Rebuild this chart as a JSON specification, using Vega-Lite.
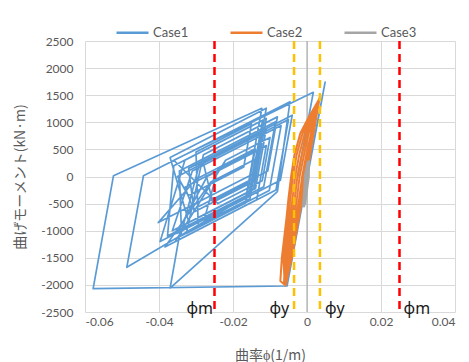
{
  "$schema": "https://vega.github.io/schema/vega-lite/v6.json",
  "width": 370,
  "height": 271,
  "autosize": {"type": "none"},
  "padding": {"left": 85, "top": 41, "right": 14, "bottom": 50},
  "background": "white",
  "config": {
    "view": {"stroke": null},
    "axis": {
      "grid": true,
      "gridColor": "#D9D9D9",
      "gridWidth": 1,
      "domain": false,
      "ticks": false,
      "tickSize": 0,
      "labelOverlap": false,
      "labelFont": "Lato",
      "labelFontSize": 12,
      "labelColor": "#595959",
      "titleFont": "Noto Sans CJK JP",
      "titleFontSize": 14,
      "titleFontWeight": "normal",
      "titleColor": "#595959"
    },
    "legend": {
      "orient": "none",
      "legendX": 30,
      "legendY": -26,
      "direction": "horizontal",
      "symbolType": "stroke",
      "symbolSize": 1024,
      "symbolStrokeWidth": 2.5,
      "labelFont": "Lato",
      "labelFontSize": 13,
      "labelColor": "#595959",
      "labelOffset": 3,
      "columnPadding": 36,
      "padding": 0,
      "title": null
    }
  },
  "datasets": {
    "curves": [
      {"case": "Case1", "i": 0, "x": 0, "y": 0},
      {"case": "Case1", "i": 1, "x": 0.0049, "y": 1740},
      {"case": "Case1", "i": 2, "x": -0.0054, "y": -2020},
      {"case": "Case1", "i": 3, "x": -0.0578, "y": -2070},
      {"case": "Case1", "i": 4, "x": -0.0523, "y": 15},
      {"case": "Case1", "i": 5, "x": -0.0122, "y": 1259},
      {"case": "Case1", "i": 6, "x": -0.0165, "y": -380},
      {"case": "Case1", "i": 7, "x": -0.0487, "y": -1676},
      {"case": "Case1", "i": 8, "x": -0.0442, "y": 15},
      {"case": "Case1", "i": 9, "x": -0.0046, "y": 1380},
      {"case": "Case1", "i": 10, "x": -0.008, "y": -280},
      {"case": "Case1", "i": 11, "x": -0.037, "y": -2060},
      {"case": "Case1", "i": 12, "x": -0.034, "y": -900},
      {"case": "Case1", "i": 13, "x": -0.0345, "y": 100},
      {"case": "Case1", "i": 14, "x": -0.0085, "y": 1010},
      {"case": "Case1", "i": 15, "x": -0.0117, "y": -190},
      {"case": "Case1", "i": 16, "x": -0.0377, "y": -1100},
      {"case": "Case1", "i": 17, "x": -0.036, "y": 200},
      {"case": "Case1", "i": 18, "x": -0.012, "y": 1040},
      {"case": "Case1", "i": 19, "x": -0.0157, "y": -360},
      {"case": "Case1", "i": 20, "x": -0.0397, "y": -1200},
      {"case": "Case1", "i": 21, "x": -0.033, "y": 300},
      {"case": "Case1", "i": 22, "x": -0.011, "y": 1070},
      {"case": "Case1", "i": 23, "x": -0.0144, "y": -230},
      {"case": "Case1", "i": 24, "x": -0.0364, "y": -1000},
      {"case": "Case1", "i": 25, "x": -0.031, "y": 100},
      {"case": "Case1", "i": 26, "x": -0.007, "y": 940},
      {"case": "Case1", "i": 27, "x": -0.0102, "y": -260},
      {"case": "Case1", "i": 28, "x": -0.0342, "y": -1100},
      {"case": "Case1", "i": 29, "x": -0.029, "y": 250},
      {"case": "Case1", "i": 30, "x": -0.011, "y": 880},
      {"case": "Case1", "i": 31, "x": -0.0139, "y": -220},
      {"case": "Case1", "i": 32, "x": -0.0319, "y": -850},
      {"case": "Case1", "i": 33, "x": -0.037, "y": 350},
      {"case": "Case1", "i": 34, "x": -0.011, "y": 1260},
      {"case": "Case1", "i": 35, "x": -0.0142, "y": 60},
      {"case": "Case1", "i": 36, "x": -0.0402, "y": -850},
      {"case": "Case1", "i": 37, "x": -0.03, "y": -50},
      {"case": "Case1", "i": 38, "x": -0.014, "y": 510},
      {"case": "Case1", "i": 39, "x": -0.0166, "y": -490},
      {"case": "Case1", "i": 40, "x": -0.0326, "y": -1050},
      {"case": "Case1", "i": 41, "x": -0.028, "y": 400},
      {"case": "Case1", "i": 42, "x": -0.008, "y": 1100},
      {"case": "Case1", "i": 43, "x": -0.0106, "y": 100},
      {"case": "Case1", "i": 44, "x": -0.0306, "y": -600},
      {"case": "Case1", "i": 45, "x": -0.032, "y": 150},
      {"case": "Case1", "i": 46, "x": -0.004, "y": 1130},
      {"case": "Case1", "i": 47, "x": -0.0072, "y": -70},
      {"case": "Case1", "i": 48, "x": -0.0352, "y": -1050},
      {"case": "Case1", "i": 49, "x": -0.027, "y": 0},
      {"case": "Case1", "i": 50, "x": -0.013, "y": 490},
      {"case": "Case1", "i": 51, "x": -0.0154, "y": -410},
      {"case": "Case1", "i": 52, "x": -0.0294, "y": -900},
      {"case": "Case1", "i": 53, "x": -0.03, "y": 450},
      {"case": "Case1", "i": 54, "x": -0.015, "y": 975},
      {"case": "Case1", "i": 55, "x": -0.0171, "y": 175},
      {"case": "Case1", "i": 56, "x": -0.0321, "y": -350},
      {"case": "Case1", "i": 57, "x": -0.035, "y": 0},
      {"case": "Case1", "i": 58, "x": -0.005, "y": 1050},
      {"case": "Case1", "i": 59, "x": -0.0084, "y": -250},
      {"case": "Case1", "i": 60, "x": -0.0384, "y": -1300},
      {"case": "Case1", "i": 61, "x": -0.026, "y": -100},
      {"case": "Case1", "i": 62, "x": -0.014, "y": 320},
      {"case": "Case1", "i": 63, "x": -0.0158, "y": -380},
      {"case": "Case1", "i": 64, "x": -0.0278, "y": -800},
      {"case": "Case1", "i": 65, "x": -0.024, "y": 150},
      {"case": "Case1", "i": 66, "x": -0.014, "y": 500},
      {"case": "Case1", "i": 67, "x": -0.0156, "y": -100},
      {"case": "Case1", "i": 68, "x": -0.0256, "y": -450},
      {"case": "Case1", "i": 69, "x": -0.028, "y": 250},
      {"case": "Case1", "i": 70, "x": -0.012, "y": 810},
      {"case": "Case1", "i": 71, "x": -0.0144, "y": -90},
      {"case": "Case1", "i": 72, "x": -0.0304, "y": -650},
      {"case": "Case1", "i": 73, "x": -0.033, "y": -200},
      {"case": "Case1", "i": 74, "x": -0.011, "y": 570},
      {"case": "Case1", "i": 75, "x": -0.0136, "y": -430},
      {"case": "Case1", "i": 76, "x": -0.0356, "y": -1200},
      {"case": "Case1", "i": 77, "x": -0.022, "y": 300},
      {"case": "Case1", "i": 78, "x": -0.01, "y": 720},
      {"case": "Case1", "i": 79, "x": -0.0121, "y": -80},
      {"case": "Case1", "i": 80, "x": -0.0241, "y": -500},
      {"case": "Case1", "i": 81, "x": -0.036, "y": 300},
      {"case": "Case1", "i": 82, "x": 0.0017, "y": 1553},
      {"case": "Case1", "i": 83, "x": -0.0025, "y": 0},

      {"case": "Case2", "i": 0, "x": 0, "y": 0},
      {"case": "Case2", "i": 1, "x": 0.0017, "y": 800},
      {"case": "Case2", "i": 2, "x": 0.0035, "y": 1480},
      {"case": "Case2", "i": 3, "x": 0.00175, "y": 800},
      {"case": "Case2", "i": 4, "x": -0.00031, "y": 0},
      {"case": "Case2", "i": 5, "x": -0.00237, "y": -800},
      {"case": "Case2", "i": 6, "x": -0.00417, "y": -1500},
      {"case": "Case2", "i": 7, "x": -0.0058, "y": -2010},
      {"case": "Case2", "i": 8, "x": -0.0072, "y": -1930},
      {"case": "Case2", "i": 9, "x": -0.0068, "y": -1500},
      {"case": "Case2", "i": 10, "x": -0.0056, "y": -800},
      {"case": "Case2", "i": 11, "x": -0.005, "y": -400},
      {"case": "Case2", "i": 12, "x": -0.0043, "y": 0},
      {"case": "Case2", "i": 13, "x": -0.0034, "y": 400},
      {"case": "Case2", "i": 14, "x": -0.0018, "y": 800},
      {"case": "Case2", "i": 15, "x": 0.0005, "y": 1100},
      {"case": "Case2", "i": 16, "x": 0.0033, "y": 1430},
      {"case": "Case2", "i": 17, "x": 0.00185, "y": 800},
      {"case": "Case2", "i": 18, "x": -0.0002, "y": 0},
      {"case": "Case2", "i": 19, "x": -0.00227, "y": -800},
      {"case": "Case2", "i": 20, "x": -0.00407, "y": -1500},
      {"case": "Case2", "i": 21, "x": -0.006, "y": -2000},
      {"case": "Case2", "i": 22, "x": -0.0064, "y": -1500},
      {"case": "Case2", "i": 23, "x": -0.0051, "y": -800},
      {"case": "Case2", "i": 24, "x": -0.0045, "y": -400},
      {"case": "Case2", "i": 25, "x": -0.0038, "y": 0},
      {"case": "Case2", "i": 26, "x": -0.0028, "y": 400},
      {"case": "Case2", "i": 27, "x": -0.0012, "y": 800},
      {"case": "Case2", "i": 28, "x": 0.0008, "y": 1100},
      {"case": "Case2", "i": 29, "x": 0.003, "y": 1380},
      {"case": "Case2", "i": 30, "x": 0.00155, "y": 800},
      {"case": "Case2", "i": 31, "x": -0.00051, "y": 0},
      {"case": "Case2", "i": 32, "x": -0.00257, "y": -800},
      {"case": "Case2", "i": 33, "x": -0.00437, "y": -1500},
      {"case": "Case2", "i": 34, "x": -0.0062, "y": -1990},
      {"case": "Case2", "i": 35, "x": -0.006, "y": -1500},
      {"case": "Case2", "i": 36, "x": -0.0046, "y": -800},
      {"case": "Case2", "i": 37, "x": -0.0039, "y": -400},
      {"case": "Case2", "i": 38, "x": -0.0032, "y": 0},
      {"case": "Case2", "i": 39, "x": -0.0021, "y": 400},
      {"case": "Case2", "i": 40, "x": -0.0006, "y": 800},
      {"case": "Case2", "i": 41, "x": 0.0011, "y": 1100},
      {"case": "Case2", "i": 42, "x": 0.0034, "y": 1450},
      {"case": "Case2", "i": 43, "x": 0.00175, "y": 800},
      {"case": "Case2", "i": 44, "x": -0.00031, "y": 0},
      {"case": "Case2", "i": 45, "x": -0.00237, "y": -800},
      {"case": "Case2", "i": 46, "x": -0.00417, "y": -1500},
      {"case": "Case2", "i": 47, "x": -0.0057, "y": -2000},
      {"case": "Case2", "i": 48, "x": -0.0056, "y": -1500},
      {"case": "Case2", "i": 49, "x": -0.0041, "y": -800},
      {"case": "Case2", "i": 50, "x": -0.0033, "y": -400},
      {"case": "Case2", "i": 51, "x": -0.0026, "y": 0},
      {"case": "Case2", "i": 52, "x": -0.0014, "y": 400},
      {"case": "Case2", "i": 53, "x": 0.0000, "y": 800},
      {"case": "Case2", "i": 54, "x": 0.0014, "y": 1100},
      {"case": "Case2", "i": 55, "x": 0.0028, "y": 1300},
      {"case": "Case2", "i": 56, "x": 0.00135, "y": 800},
      {"case": "Case2", "i": 57, "x": -0.00071, "y": 0},
      {"case": "Case2", "i": 58, "x": -0.00277, "y": -800},
      {"case": "Case2", "i": 59, "x": -0.00457, "y": -1500},
      {"case": "Case2", "i": 60, "x": -0.0063, "y": -1980},
      {"case": "Case2", "i": 61, "x": -0.0052, "y": -1500},
      {"case": "Case2", "i": 62, "x": -0.0036, "y": -800},
      {"case": "Case2", "i": 63, "x": -0.0027, "y": -400},
      {"case": "Case2", "i": 64, "x": -0.002, "y": 0},
      {"case": "Case2", "i": 65, "x": -0.0008, "y": 400},
      {"case": "Case2", "i": 66, "x": 0.0005, "y": 800},
      {"case": "Case2", "i": 67, "x": 0.0031, "y": 1400},
      {"case": "Case2", "i": 68, "x": 0.00185, "y": 800},
      {"case": "Case2", "i": 69, "x": -0.0002, "y": 0},
      {"case": "Case2", "i": 70, "x": -0.00227, "y": -800},
      {"case": "Case2", "i": 71, "x": -0.00407, "y": -1500},
      {"case": "Case2", "i": 72, "x": -0.0059, "y": -1960},
      {"case": "Case2", "i": 73, "x": -0.0048, "y": -1500},
      {"case": "Case2", "i": 74, "x": -0.0031, "y": -800},
      {"case": "Case2", "i": 75, "x": -0.0021, "y": -400},
      {"case": "Case2", "i": 76, "x": -0.0013, "y": 0},
      {"case": "Case2", "i": 77, "x": -0.0002, "y": 400},
      {"case": "Case2", "i": 78, "x": 0.0011, "y": 800},
      {"case": "Case2", "i": 79, "x": 0.0025, "y": 1250},
      {"case": "Case2", "i": 80, "x": 0.0016, "y": 800},
      {"case": "Case2", "i": 81, "x": -0.0004, "y": 0},
      {"case": "Case2", "i": 82, "x": -0.00247, "y": -800},
      {"case": "Case2", "i": 83, "x": -0.00427, "y": -1500},
      {"case": "Case2", "i": 84, "x": -0.0061, "y": -1970},
      {"case": "Case2", "i": 85, "x": -0.0045, "y": -1500},
      {"case": "Case2", "i": 86, "x": -0.0027, "y": -800},
      {"case": "Case2", "i": 87, "x": -0.0016, "y": -400},
      {"case": "Case2", "i": 88, "x": -0.0008, "y": 0},
      {"case": "Case2", "i": 89, "x": 0.0003, "y": 400},
      {"case": "Case2", "i": 90, "x": 0.0014, "y": 800},
      {"case": "Case2", "i": 91, "x": 0.0032, "y": 1350},

      {"case": "Case3", "i": 0, "x": 0, "y": 0},
      {"case": "Case3", "i": 1, "x": 0.0004, "y": 268},
      {"case": "Case3", "i": 2, "x": 0.0, "y": -100},
      {"case": "Case3", "i": 3, "x": -0.0009, "y": -540},
      {"case": "Case3", "i": 4, "x": -0.0003, "y": -50},
      {"case": "Case3", "i": 5, "x": 0.0003, "y": 250},
      {"case": "Case3", "i": 6, "x": 0.0003, "y": 0},
      {"case": "Case3", "i": 7, "x": -0.0007, "y": -500},
      {"case": "Case3", "i": 8, "x": -0.0004, "y": 0},
      {"case": "Case3", "i": 9, "x": 0.0003, "y": 240}
    ],
    "axisline": [{"x": 0}],
    "refs": [
      {"x": -0.025, "kind": "m"},
      {"x": 0.025, "kind": "m"},
      {"x": -0.0035, "kind": "y"},
      {"x": 0.0035, "kind": "y"}
    ],
    "labels": [
      {"x": -0.029, "y": -2440, "label": "ϕm"},
      {"x": -0.0075, "y": -2440, "label": "ϕy"},
      {"x": 0.0075, "y": -2440, "label": "ϕy"},
      {"x": 0.0297, "y": -2440, "label": "ϕm"}
    ]
  },
  "encoding": {
    "x": {
      "field": "x",
      "type": "quantitative",
      "scale": {"domain": [-0.06, 0.04], "nice": false, "zero": false},
      "axis": {
        "values": [-0.06, -0.04, -0.02, 0, 0.02, 0.04],
        "labelExpr": "'' + datum.value",
        "labelOverlap": false,
        "labelPadding": 4,
        "title": "曲率ϕ(1/m)",
        "titleY": 43,
        "titleBaseline": "middle"
      }
    }
  },
  "layer": [
    {
      "data": {"name": "axisline"},
      "mark": {"type": "rule", "color": "#A0A0A0", "strokeWidth": 1}
    },
    {
      "data": {"name": "curves"},
      "layer": [
        {
          "transform": [{"filter": "datum.case === 'Case1'"}],
          "mark": {"type": "line", "strokeWidth": 1.7, "strokeJoin": "round"}
        },
        {
          "transform": [{"filter": "datum.case === 'Case2'"}],
          "mark": {"type": "line", "strokeWidth": 2, "strokeJoin": "round"}
        },
        {
          "transform": [{"filter": "datum.case === 'Case3'"}],
          "mark": {"type": "line", "strokeWidth": 3.5, "strokeJoin": "round", "strokeCap": "round"}
        },
        {
          "data": {"name": "labels"},
          "mark": {"type": "text", "font": "Noto Sans", "fontSize": 16, "baseline": "middle", "align": "center"},
          "encoding": {
            "text": {"field": "label"},
            "color": {"value": "#1A1A1A"},
            "order": null
          }
        }
      ],
      "encoding": {
        "y": {
          "field": "y",
          "type": "quantitative",
          "scale": {"domain": [-2500, 2500], "nice": false, "zero": false},
          "axis": {
            "values": [-2500, -2000, -1500, -1000, -500, 0, 500, 1000, 1500, 2000, 2500],
            "labelExpr": "'' + datum.value",
            "labelOverlap": false,
            "labelPadding": 12,
            "title": "曲げモーメント(kN·m)",
            "titleX": -65,
            "titleY": 135.5,
            "titleAngle": -90,
            "titleAlign": "center",
            "titleBaseline": "middle"
          }
        },
        "order": {"field": "i", "type": "quantitative"},
        "color": {
          "field": "case",
          "type": "nominal",
          "scale": {"domain": ["Case1", "Case2", "Case3"], "range": ["#5B9BD5", "#ED7D31", "#A5A5A5"]},
          "legend": {"title": null}
        }
      }
    },
    {
      "data": {"name": "refs"},
      "transform": [{"filter": "datum.kind === 'm'"}],
      "mark": {"type": "rule", "color": "#FF0000", "strokeWidth": 2.5, "strokeDash": [8, 5]}
    },
    {
      "data": {"name": "refs"},
      "transform": [{"filter": "datum.kind === 'y'"}],
      "mark": {"type": "rule", "color": "#FFC000", "strokeWidth": 2.5, "strokeDash": [8, 5]}
    }
  ]
}
